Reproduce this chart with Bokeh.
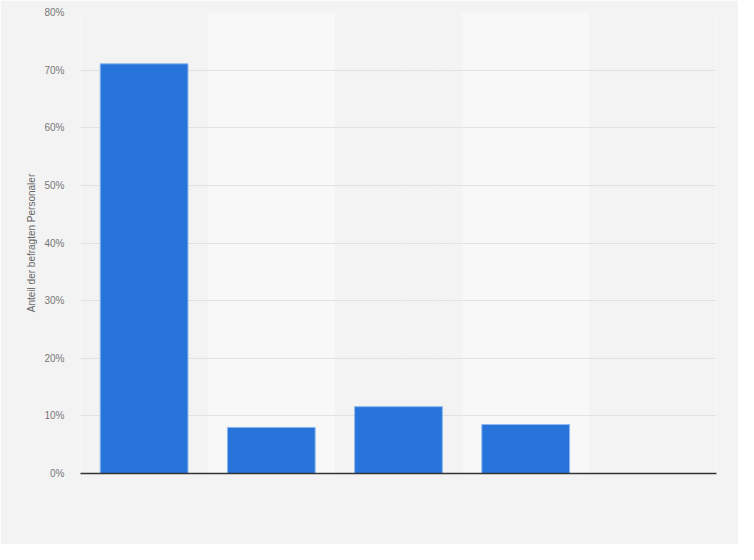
from bokeh.plotting import figure
from bokeh.models import ColumnDataSource, FactorRange, PrintfTickFormatter, FixedTicker, Range1d
from bokeh.embed import file_html
from bokeh.resources import INLINE

# Data (values in percent)
categories = ["1", "2", "3", "4", "5"]
values = [71.1, 8.0, 11.6, 8.5, 0.0]
band_categories = ["2", "4"]
y_ticks = [0, 10, 20, 30, 40, 50, 60, 70, 80]

BG = "#f3f3f3"
BAND = "#f8f8f8"
BAR = "#2775db"
FONT = "Liberation Sans"

p = figure(
    x_range=FactorRange(*categories, range_padding=0),
    y_range=Range1d(0, 80),
    width=738, height=544,
    output_backend="svg", toolbar_location=None,
    min_border_left=80, min_border_right=22, min_border_top=12, min_border_bottom=71,
)
p.background_fill_color = BG
p.border_fill_color = BG
p.outline_line_color = None

# alternating column bands
band_src = ColumnDataSource(dict(x=band_categories, top=[y_ticks[-1]] * len(band_categories)))
p.vbar(x="x", top="top", bottom=0, width=1.0, source=band_src,
       fill_color=BAND, line_color=None, level="underlay")

src = ColumnDataSource(dict(x=categories, top=values))
p.vbar(x="x", top="top", width=0.69, source=src,
       fill_color=BAR, line_color="#8fb8ef", line_width=1)

# grid
p.xgrid.grid_line_color = None
p.ygrid.ticker = FixedTicker(ticks=y_ticks)
p.ygrid.grid_line_color = "#cfcfcf"
p.ygrid.grid_line_dash = "1 1"
p.ygrid.grid_line_width = 1

# y axis
p.yaxis.ticker = FixedTicker(ticks=y_ticks)
p.yaxis.formatter = PrintfTickFormatter(format="%d%%")
p.yaxis.axis_line_color = None
p.yaxis.major_tick_line_color = None
p.yaxis.minor_tick_line_color = None
p.yaxis.major_tick_out = 0
p.yaxis.major_label_standoff = 16
p.yaxis.major_label_text_font = FONT
p.yaxis.major_label_text_font_size = "10px"
p.yaxis.major_label_text_color = "#777777"
p.yaxis.axis_label = "Anteil der befragten Personaler"
p.yaxis.axis_label_text_font = FONT
p.yaxis.axis_label_text_font_size = "10px"
p.yaxis.axis_label_text_font_style = "normal"
p.yaxis.axis_label_text_color = "#666666"
p.yaxis.axis_label_standoff = 4

# x axis: dark baseline only, no labels
p.xaxis.axis_line_color = "#333333"
p.xaxis.axis_line_width = 1.5
p.xaxis.major_tick_line_color = None
p.xaxis.minor_tick_line_color = None
p.xaxis.major_label_text_color = None
p.xaxis.major_label_text_font_size = "1px"
p.xaxis.group_text_color = None

html = file_html(p, INLINE)
html = html.replace("<body>", '<body style="background:%s;">' % BG, 1)
open("out.html", "w").write(html)
